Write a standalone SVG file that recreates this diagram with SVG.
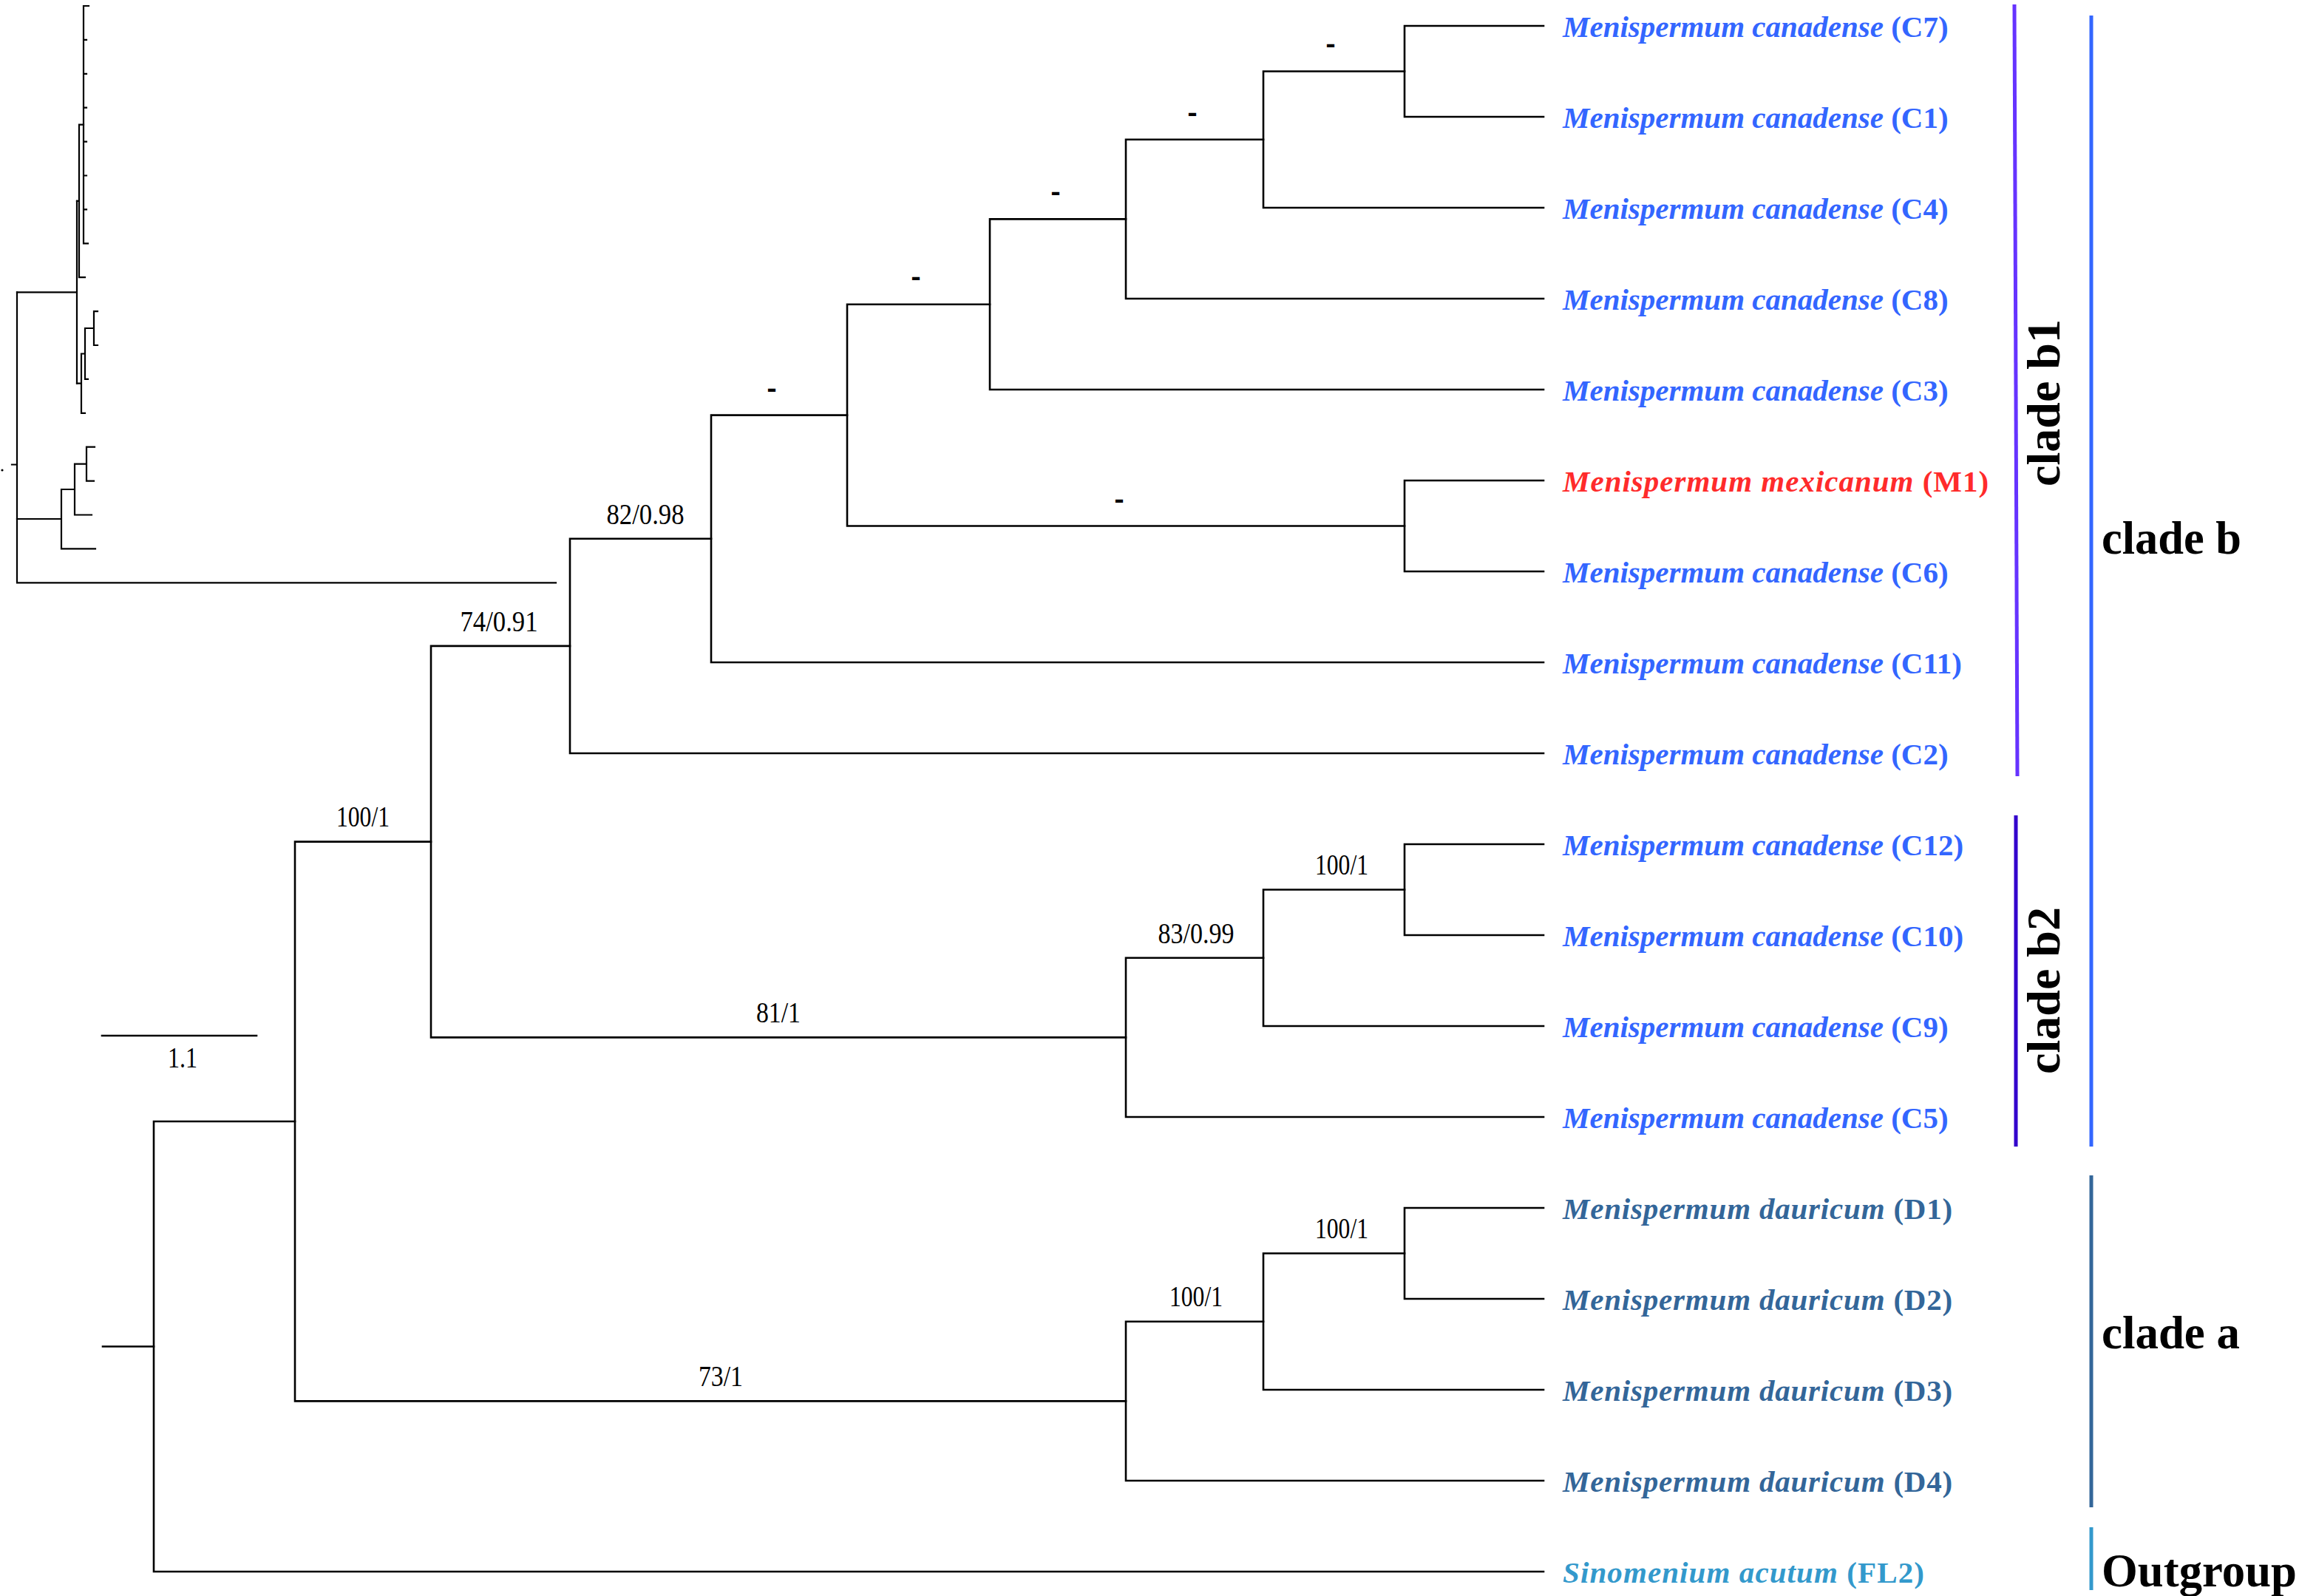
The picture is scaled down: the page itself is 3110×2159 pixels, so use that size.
<svg xmlns="http://www.w3.org/2000/svg" width="3110" height="2159" viewBox="0 0 3110 2159">
<style>
.br{fill:none;stroke:#000;stroke-width:2.6;stroke-linejoin:miter;stroke-linecap:square}
.ib{fill:none;stroke:#000;stroke-width:2.2;stroke-linecap:square}
.lb{font-family:"Liberation Serif","Times New Roman",serif;font-weight:bold;font-size:41px}
.it{font-style:italic}
.bs{font-family:"Liberation Serif","Times New Roman",serif;font-size:40px;text-anchor:middle;fill:#000}
.ds{font-family:"Liberation Serif","Times New Roman",serif;font-weight:bold;font-size:48px;text-anchor:middle;fill:#000}
.cl{font-family:"Liberation Serif","Times New Roman",serif;font-weight:bold;font-size:64px;fill:#000}
.can{fill:#3366ff}.mex{fill:#ff2b2b;letter-spacing:1px}.dau{fill:#336699;letter-spacing:0.8px}.sin{fill:#3399cc;letter-spacing:1.1px}
.bar{fill:none;stroke-width:5}
</style>
<rect width="3110" height="2159" fill="#fff"/>

<g id="inset">
<path class="ib" d="M113 8 V329.3 M113 8 H120 M113 53.9 H117 M113 99.8 H117 M113 145.7 H117 M113 191.6 H117 M113 237.5 H117 M113 283.4 H117 M113 329.3 H119"/>
<path class="ib" d="M107 168.6 H113 M107 168.6 V375.2 H115 M104 271.9 H107"/>
<path class="ib" d="M132 421.1 H127 V467 H132 M115 444 H127 M115 444 V512.9 H119 M110 478.5 H115 M110 478.5 V558.8 H115 M104 518.6 H110"/>
<path class="ib" d="M104 271.9 V518.6 M23 395.3 H104"/>
<path class="ib" d="M128 604.7 H117 V650.6 H127 M101 627.7 H117 M101 627.7 V696.5 H124 M83 662 H101 M83 662 V742.4 H129 M23 702 H83"/>
<path class="ib" d="M23 395.3 V788.3 H752 M16 628.5 H23"/>
<circle cx="3" cy="636" r="1.6" fill="#000"/>
</g>

<g id="connectors">
<path class="br" d="M139 1821.5 H208"/>
<path class="br" d="M399 1517 H208 V2126 H2088"/>
<path class="br" d="M583 1138.6 H399 V1895.4 H1523"/>
<path class="br" d="M771 873.9 H583 V1403.4 H1523"/>
<path class="br" d="M962 728.8 H771 V1019 H2088"/>
<path class="br" d="M1146 561.6 H962 V896 H2088"/>
<path class="br" d="M1339 411.7 H1146 V711.5 H1900"/>
<path class="br" d="M1523 296.4 H1339 V527 H2088"/>
<path class="br" d="M1709 188.75 H1523 V404 H2088"/>
<path class="br" d="M1900 96.5 H1709 V281 H2088"/>
<path class="br" d="M2088 35 H1900 V158 H2088"/>
<path class="br" d="M2088 650 H1900 V773 H2088"/>
<path class="br" d="M1709 1295.75 H1523 V1511 H2088"/>
<path class="br" d="M1900 1203.5 H1709 V1388 H2088"/>
<path class="br" d="M2088 1142 H1900 V1265 H2088"/>
<path class="br" d="M1709 1787.75 H1523 V2003 H2088"/>
<path class="br" d="M1900 1695.5 H1709 V1880 H2088"/>
<path class="br" d="M2088 1634 H1900 V1757 H2088"/>
</g>

<g id="support">
<text class="ds" x="1800" y="73" textLength="13" lengthAdjust="spacingAndGlyphs">-</text>
<text class="ds" x="1613" y="166" textLength="13" lengthAdjust="spacingAndGlyphs">-</text>
<text class="ds" x="1428" y="273" textLength="13" lengthAdjust="spacingAndGlyphs">-</text>
<text class="ds" x="1239" y="388" textLength="13" lengthAdjust="spacingAndGlyphs">-</text>
<text class="ds" x="1044" y="539" textLength="13" lengthAdjust="spacingAndGlyphs">-</text>
<text class="ds" x="1514" y="689" textLength="13" lengthAdjust="spacingAndGlyphs">-</text>
<text class="bs" x="873" y="709" textLength="105" lengthAdjust="spacingAndGlyphs">82/0.98</text>
<text class="bs" x="675" y="854" textLength="105" lengthAdjust="spacingAndGlyphs">74/0.91</text>
<text class="bs" x="491" y="1118" textLength="72" lengthAdjust="spacingAndGlyphs">100/1</text>
<text class="bs" x="1815" y="1183" textLength="72" lengthAdjust="spacingAndGlyphs">100/1</text>
<text class="bs" x="1618" y="1276" textLength="103" lengthAdjust="spacingAndGlyphs">83/0.99</text>
<text class="bs" x="1053" y="1383" textLength="60" lengthAdjust="spacingAndGlyphs">81/1</text>
<text class="bs" x="1815" y="1675" textLength="72" lengthAdjust="spacingAndGlyphs">100/1</text>
<text class="bs" x="1618" y="1767" textLength="72" lengthAdjust="spacingAndGlyphs">100/1</text>
<text class="bs" x="975" y="1875" textLength="60" lengthAdjust="spacingAndGlyphs">73/1</text>
</g>

<g id="scalebar">
<path class="br" d="M138 1401 H347"/>
<text class="bs" x="247" y="1444" textLength="40" lengthAdjust="spacingAndGlyphs">1.1</text>
</g>

<g id="tip-C7"><text class="lb can" x="2114" y="50"><tspan class="it">Menispermum canadense</tspan> (C7)</text></g>
<g id="tip-C1"><text class="lb can" x="2114" y="173"><tspan class="it">Menispermum canadense</tspan> (C1)</text></g>
<g id="tip-C4"><text class="lb can" x="2114" y="296"><tspan class="it">Menispermum canadense</tspan> (C4)</text></g>
<g id="tip-C8"><text class="lb can" x="2114" y="419"><tspan class="it">Menispermum canadense</tspan> (C8)</text></g>
<g id="tip-C3"><text class="lb can" x="2114" y="542"><tspan class="it">Menispermum canadense</tspan> (C3)</text></g>
<g id="tip-M1"><text class="lb mex" x="2114" y="665"><tspan class="it">Menispermum mexicanum</tspan> (M1)</text></g>
<g id="tip-C6"><text class="lb can" x="2114" y="788"><tspan class="it">Menispermum canadense</tspan> (C6)</text></g>
<g id="tip-C11"><text class="lb can" x="2114" y="911"><tspan class="it">Menispermum canadense</tspan> (C11)</text></g>
<g id="tip-C2"><text class="lb can" x="2114" y="1034"><tspan class="it">Menispermum canadense</tspan> (C2)</text></g>
<g id="tip-C12"><text class="lb can" x="2114" y="1157"><tspan class="it">Menispermum canadense</tspan> (C12)</text></g>
<g id="tip-C10"><text class="lb can" x="2114" y="1280"><tspan class="it">Menispermum canadense</tspan> (C10)</text></g>
<g id="tip-C9"><text class="lb can" x="2114" y="1403"><tspan class="it">Menispermum canadense</tspan> (C9)</text></g>
<g id="tip-C5"><text class="lb can" x="2114" y="1526"><tspan class="it">Menispermum canadense</tspan> (C5)</text></g>
<g id="tip-D1"><text class="lb dau" x="2114" y="1649"><tspan class="it">Menispermum dauricum</tspan> (D1)</text></g>
<g id="tip-D2"><text class="lb dau" x="2114" y="1772"><tspan class="it">Menispermum dauricum</tspan> (D2)</text></g>
<g id="tip-D3"><text class="lb dau" x="2114" y="1895"><tspan class="it">Menispermum dauricum</tspan> (D3)</text></g>
<g id="tip-D4"><text class="lb dau" x="2114" y="2018"><tspan class="it">Menispermum dauricum</tspan> (D4)</text></g>
<g id="tip-FL2"><text class="lb sin" x="2114" y="2141"><tspan class="it">Sinomenium acutum</tspan> (FL2)</text></g>

<g id="clade-b1"><path class="bar" stroke="#6633ff" d="M2725 6 L2729 1050"/><text class="cl" text-anchor="middle" transform="translate(2786 545) rotate(-90)">clade b1</text></g>
<g id="clade-b2"><path class="bar" stroke="#3300cc" d="M2727 1103 V1551"/><text class="cl" text-anchor="middle" transform="translate(2786 1340) rotate(-90)">clade b2</text></g>
<g id="clade-b"><path class="bar" stroke="#3366ff" d="M2829 21 V1551"/><text class="cl" x="2843" y="749" textLength="189" lengthAdjust="spacingAndGlyphs">clade b</text></g>
<g id="clade-a"><path class="bar" stroke="#336699" d="M2829 1590 V2039"/><text class="cl" x="2843" y="1824" textLength="187" lengthAdjust="spacingAndGlyphs">clade a</text></g>
<g id="outgroup"><path class="bar" stroke="#3399cc" d="M2829 2066 V2151"/><text class="cl" x="2843" y="2146" textLength="264" lengthAdjust="spacingAndGlyphs">Outgroup</text></g>
</svg>
